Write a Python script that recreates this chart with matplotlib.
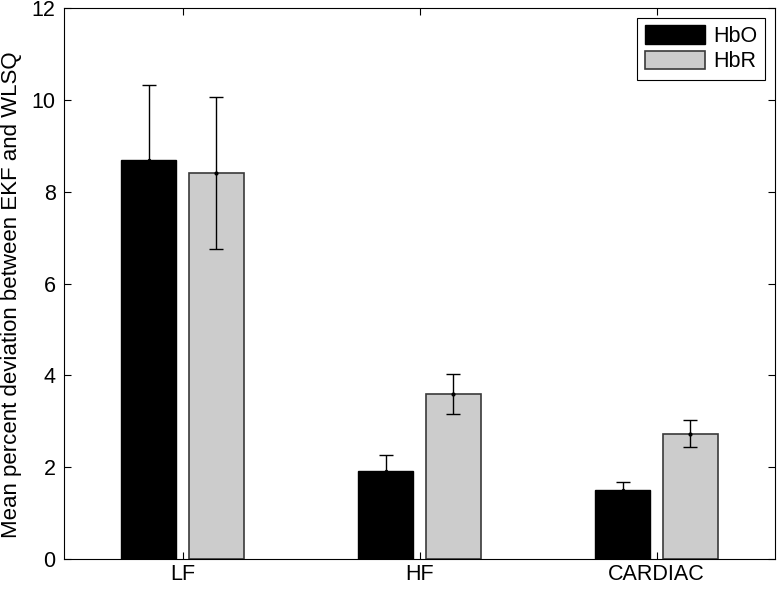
import numpy as np
import matplotlib
matplotlib.use('Agg')
import matplotlib.pyplot as plt

plt.rcParams['font.family'] = ['Liberation Sans', 'DejaVu Sans']

# data
bands = ['LF', 'HF', 'CARDIAC']
hbo_mean = [8.70, 1.91, 1.51]
hbo_err = [1.63, 0.36, 0.16]
hbr_mean = [8.41, 3.59, 2.73]
hbr_err = [1.65, 0.43, 0.29]

x = np.arange(1, len(bands) + 1)
w = 0.23
off = 0.143

fig = plt.figure(figsize=(7.8, 5.92), dpi=100)
ax = fig.add_axes([64/780, 1 - 559/592, 711/780, 551/592])

ax.bar(x - off, hbo_mean, w, color='black', edgecolor='black', linewidth=1, label='HbO')
ax.bar(x + off, hbr_mean, w, color='#cccccc', edgecolor='#3a3a3a', linewidth=1.2, label='HbR')
ax.errorbar(x - off, hbo_mean, yerr=hbo_err, fmt='.', color='black', ms=3,
            elinewidth=1, capsize=5, capthick=1)
ax.errorbar(x + off, hbr_mean, yerr=hbr_err, fmt='.', color='black', ms=4,
            elinewidth=1, capsize=5, capthick=1)

ax.set_xlim(0.5, 3.5)
ax.set_ylim(0, 12)
ax.set_xticks(x)
ax.set_xticklabels(bands)
ax.set_yticks(np.arange(0, 13, 2))
ax.tick_params(direction='in', top=True, right=True, labelsize=15.5, length=5, width=0.8)
ax.tick_params(axis='y', pad=6)
for s in ax.spines.values():
    s.set_linewidth(0.8)
ax.set_ylabel('Mean percent deviation between EKF and WLSQ', fontsize=16)
ax.yaxis.set_label_coords(-42/711, 0.48)

leg = ax.legend(loc='upper right', fontsize=15.5, fancybox=False, framealpha=1,
                edgecolor='black', handlelength=2.8, handleheight=0.93,
                borderaxespad=0.45, handletextpad=0.4, labelspacing=0.18, borderpad=0.35)
leg.get_frame().set_linewidth(0.8)

fig.savefig('out.png', dpi=100)
